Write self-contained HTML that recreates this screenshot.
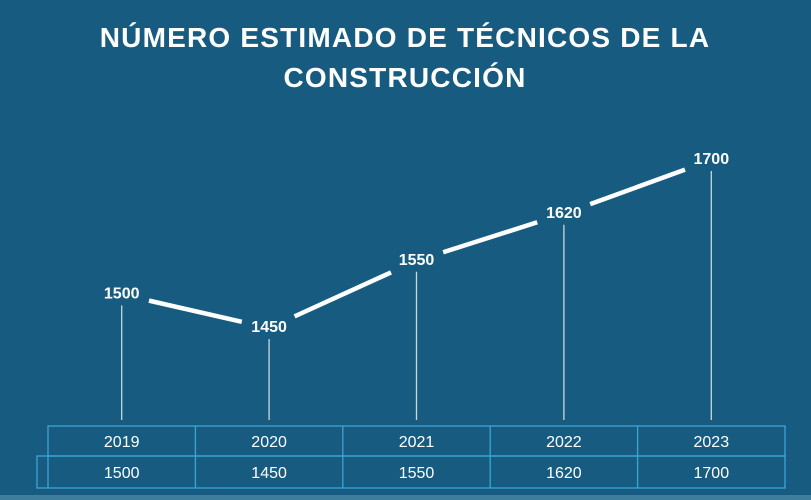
<!DOCTYPE html>
<html><head><meta charset="utf-8"><style>
body{margin:0;width:811px;height:500px;overflow:hidden;background:#175c80;font-family:"Liberation Sans",sans-serif}
svg{position:absolute;left:0;top:0}
</style></head><body>
<svg width="811" height="500">
<rect x="0" y="0" width="811" height="500" fill="#175c80"/>
<rect x="0" y="495" width="811" height="5" fill="#3f7d9c"/>
<text x="405" y="47" text-anchor="middle" fill="#fff" font-size="28" font-weight="bold" letter-spacing="1.2">NÚMERO ESTIMADO DE TÉCNICOS DE LA</text>
<text x="405" y="87" text-anchor="middle" fill="#fff" font-size="28" font-weight="bold" letter-spacing="1.2">CONSTRUCCIÓN</text>
<g id="marks"></g>
<g id="table"></g>
</svg>
<script>
const categories=["2019","2020","2021","2022","2023"];
const values=[1500,1450,1550,1620,1700];
const NS="http://www.w3.org/2000/svg";
const tl=48,tr=785,colW=(tr-tl)/categories.length;
function xPos(i){return tl+colW*(i+0.5);}
function yPos(v){return 326-(v-1450)*0.672;}
const marks=document.getElementById('marks');
const table=document.getElementById('table');
function mk(tag,attrs,parent){const e=document.createElementNS(NS,tag);for(const k in attrs)e.setAttribute(k,attrs[k]);parent.appendChild(e);return e;}
for(let i=0;i<values.length;i++){
  const x=xPos(i),y=yPos(values[i]);
  const d=mk('line',{x1:x,y1:y+13,x2:x,y2:420,stroke:'#c9d6de','stroke-width':1.3},marks);
  
  
  if(i<values.length-1){
    const x2=xPos(i+1),y2=yPos(values[i+1]);
    const dx=x2-x,dy=y2-y,len=Math.hypot(dx,dy),g=28/len;
    const s=mk('line',{x1:x+dx*g,y1:y+dy*g+2,x2:x2-dx*g,y2:y2-dy*g+2,stroke:'#fff','stroke-width':4.5},marks);
    
    
  }
  const t=mk('text',{x:x,y:y+6,'text-anchor':'middle',fill:'#fff','font-size':16,'font-weight':'bold'},marks);
  t.textContent=values[i];
  
  
}
const st={fill:'none',stroke:'#3aa4d6','stroke-width':1.3};
let r=mk('rect',Object.assign({x:tl,y:426,width:tr-tl,height:30},st),table);


r=mk('rect',Object.assign({x:37,y:456,width:tr-37,height:32},st),table);


mk('line',Object.assign({x1:tl,y1:456,x2:tl,y2:488},st),table);
for(let i=0;i<categories.length;i++){
  if(i>0){const l=mk('line',Object.assign({x1:tl+colW*i,y1:426,x2:tl+colW*i,y2:488},st),table);
    
    }
  const a=mk('text',{x:xPos(i),y:447,'text-anchor':'middle',fill:'#fff','font-size':16},table);
  a.textContent=categories[i];
  
  
  const b=mk('text',{x:xPos(i),y:478,'text-anchor':'middle',fill:'#fff','font-size':16},table);
  b.textContent=values[i];
  
  
}
</script>
</body></html>
